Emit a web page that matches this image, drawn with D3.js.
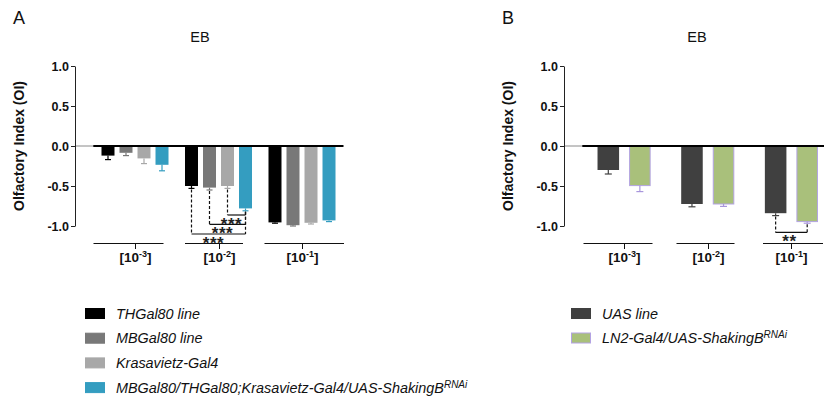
<!DOCTYPE html>
<html>
<head>
<meta charset="utf-8">
<script src="https://cdn.jsdelivr.net/npm/d3@7"></script>
<style>
  body { margin: 0; background: #fff; }
  svg { display: block; }
  text { font-family: Arial, "Liberation Sans", Helvetica, sans-serif; }
</style>
</head>
<body>
<svg id="chart" width="824" height="396"></svg>
<script>
// Odour dilutions (10^x) shown on the x axis
const dilutionExponents = ["-3", "-2", "-1"];
const yTickValues = [1.0, 0.5, 0.0, -0.5, -1.0];

// Panel A: THGal80 / MBGal80 / Krasavietz-Gal4 controls vs. ShakingB knockdown
const seriesA = ["THGal80 line", "MBGal80 line", "Krasavietz-Gal4",
                 "MBGal80/THGal80;Krasavietz-Gal4/UAS-ShakingB"];
const seriesSupA = ["", "", "", "RNAi"];
const meansA = [
  [-0.12, -0.50, -0.955],
  [-0.085, -0.52, -0.99],
  [-0.155, -0.50, -0.96],
  [-0.235, -0.78, -0.93]
];
const semA = [
  [0.05, 0.03, 0.01],
  [0.035, 0.03, 0.01],
  [0.065, 0.03, 0.015],
  [0.075, 0.03, 0.015]
];
const colorsA = ["#000000", "#787878", "#a8a8a8", "#349dc0"];
const errColorsA = ["#000000", "#787878", "#a8a8a8", "#349dc0"];
// significance brackets: [dilution index, bar from, bar to, bracket level, stars]
const sigA = [
  [1, 2, 3, -0.8625, "***"],
  [1, 1, 3, -0.98, "***"],
  [1, 0, 3, -1.10, "***"]
];

// Panel B: UAS control vs. LN2 ShakingB knockdown
const seriesB = ["UAS line", "LN2-Gal4/UAS-ShakingB"];
const seriesSupB = ["", "RNAi"];
const meansB = [
  [-0.30, -0.725, -0.84],
  [-0.495, -0.725, -0.945]
];
const semB = [
  [0.05, 0.035, 0.03],
  [0.075, 0.03, 0.02]
];
const colorsB = ["#404040", "#a9c07b"];
const errColorsB = ["#404040", "#a896dc"];
const strokeB = [null, "#b3a3e3"];
const sigB = [
  [2, 0, 1, -1.08, "**"]
];

const svg = d3.select("#chart");

function drawPanel(o) {
  const g = svg.append("g");
  const y = d3.scaleLinear().domain([-1, 1]).range([226, 66]);
  const x0 = d3.scaleBand().domain(dilutionExponents).range(o.groupRange);
  const x1 = d3.scaleBand().domain(d3.range(o.series.length))
    .range([0, x0.bandwidth()]).paddingInner(o.padInner).paddingOuter(o.padOuter);
  const barCenter = (gi, si) => x0(dilutionExponents[gi]) + x1(si) + x1.bandwidth() / 2;

  // panel letter and title
  g.append("text").attr("x", o.letterX).attr("y", 24).attr("font-size", 18).attr("fill", "#111").text(o.letter);
  g.append("text").attr("x", o.titleX).attr("y", 42).attr("text-anchor", "middle")
    .attr("font-size", 14.5).attr("fill", "#111").text("EB");

  // y axis title
  g.append("text")
    .attr("transform", `translate(${o.yTitleX},146) rotate(-90)`)
    .attr("text-anchor", "middle").attr("font-size", 14).attr("font-weight", "bold")
    .attr("fill", "#111").text("Olfactory Index (OI)");

  // thin grey baseline from the axis to the first group
  g.append("line").attr("x1", o.axisX).attr("x2", o.groupRange[0])
    .attr("y1", y(0)).attr("y2", y(0)).attr("stroke", "#8a8a8a").attr("stroke-width", 1);

  // bars
  const flat = [];
  o.means.forEach((vals, si) => vals.forEach((v, gi) => flat.push({ si, gi, v, e: o.sem[si][gi] })));

  g.append("g").selectAll("rect").data(flat).join("rect")
    .attr("x", d => x0(dilutionExponents[d.gi]) + x1(d.si) + (o.stroke[d.si] ? 0.5 : 0))
    .attr("y", d => y(Math.max(0, d.v)))
    .attr("width", d => x1.bandwidth() - (o.stroke[d.si] ? 1 : 0))
    .attr("height", d => Math.abs(y(d.v) - y(0)))
    .attr("fill", d => o.colors[d.si])
    .attr("stroke", d => o.stroke[d.si] || "none")
    .attr("stroke-width", 1);

  // error bars (downward only)
  const eb = g.append("g").selectAll("g").data(flat).join("g")
    .attr("stroke", d => o.errColors[d.si]).attr("stroke-width", 1.2);
  eb.append("line")
    .attr("x1", d => barCenter(d.gi, d.si)).attr("x2", d => barCenter(d.gi, d.si))
    .attr("y1", d => y(d.v)).attr("y2", d => y(d.v - d.e));
  eb.append("line")
    .attr("x1", d => barCenter(d.gi, d.si) - o.capW / 2).attr("x2", d => barCenter(d.gi, d.si) + o.capW / 2)
    .attr("y1", d => y(d.v - d.e)).attr("y2", d => y(d.v - d.e));

  // heavy zero line across the groups
  g.append("line").attr("x1", o.groupRange[0]).attr("x2", o.zeroEnd)
    .attr("y1", y(0)).attr("y2", y(0)).attr("stroke", "#000").attr("stroke-width", 2);

  // y axis
  const ya = g.append("g").attr("transform", `translate(${o.axisX},0)`)
    .call(d3.axisLeft(y).tickValues(yTickValues).tickFormat(d => d.toFixed(1))
      .tickSize(4).tickSizeOuter(0).tickPadding(2));
  ya.selectAll("path, line").attr("stroke", "#222");
  ya.selectAll("text").attr("font-size", 12.5).attr("font-weight", "bold").attr("fill", "#111")
    .attr("font-family", "Arial, 'Liberation Sans', sans-serif");

  // group segments below the plot with centre ticks and labels
  const xg = g.append("g").selectAll("g").data(dilutionExponents).join("g")
    .attr("transform", d => `translate(${Math.round(x0(d) + x0.bandwidth() / 2) + 0.5},0)`);
  xg.append("line")
    .attr("x1", (d, i) => o.segSpan[i][0]).attr("x2", (d, i) => o.segSpan[i][1])
    .attr("y1", 243.5).attr("y2", 243.5).attr("stroke", "#111").attr("stroke-width", 1);
  xg.append("line").attr("x1", 0).attr("x2", 0).attr("y1", 243.5).attr("y2", 249)
    .attr("stroke", "#111").attr("stroke-width", 1);
  const lbl = xg.append("text").attr("y", 262).attr("text-anchor", "middle")
    .attr("font-size", 13.5).attr("font-weight", "bold").attr("fill", "#111");
  lbl.append("tspan").text("[10");
  lbl.append("tspan").attr("dy", -5).attr("font-size", 9).text(d => d);
  lbl.append("tspan").attr("dy", 5).text("]");

  // significance brackets
  const sg = g.append("g").selectAll("g").data(o.sig).join("g");
  sg.append("line")
    .attr("x1", d => barCenter(d[0], d[1])).attr("x2", d => barCenter(d[0], d[1]))
    .attr("y1", d => y(o.means[d[1]][d[0]] - o.sem[d[1]][d[0]]) + 1).attr("y2", d => y(d[3]))
    .attr("stroke", "#111").attr("stroke-width", 1.2).attr("stroke-dasharray", "3,2");
  sg.append("line")
    .attr("x1", d => barCenter(d[0], d[2])).attr("x2", d => barCenter(d[0], d[2]))
    .attr("y1", d => y(o.means[d[2]][d[0]] - o.sem[d[2]][d[0]]) + 1).attr("y2", d => y(d[3]))
    .attr("stroke", "#111").attr("stroke-width", 1.2).attr("stroke-dasharray", "3,2");
  sg.append("line")
    .attr("x1", d => barCenter(d[0], d[1])).attr("x2", d => barCenter(d[0], d[2]))
    .attr("y1", d => y(d[3])).attr("y2", d => y(d[3]))
    .attr("stroke", "#111").attr("stroke-width", 1.2);
  sg.append("text")
    .attr("x", d => (barCenter(d[0], d[1]) + barCenter(d[0], d[2])) / 2 - o.starShift)
    .attr("y", d => y(d[3]) + 14.5)
    .attr("text-anchor", "middle").attr("font-size", 17).attr("font-weight", "bold")
    .attr("letter-spacing", 0.6).attr("fill", "#222")
    .text(d => d[4]);

  // legend
  const lg = g.append("g").selectAll("g").data(o.series).join("g")
    .attr("transform", (d, i) => `translate(${o.legendX},${313 + i * o.legendStep})`);
  lg.append("rect").attr("x", 0.5).attr("y", -4.5).attr("width", 19).attr("height", 10)
    .attr("fill", (d, i) => o.colors[i])
    .attr("stroke", (d, i) => o.stroke[i] || o.colors[i]).attr("stroke-width", 1);
  const lt = lg.append("text").attr("x", 31).attr("y", 5.5).attr("font-size", 14.4)
    .attr("font-style", "italic").attr("fill", "#111");
  lt.append("tspan").text(d => d);
  lt.append("tspan").attr("dy", -5).attr("font-size", 10).text((d, i) => o.sup[i]);
}

drawPanel({
  letter: "A", letterX: 13, titleX: 200, yTitleX: 24, axisX: 75,
  groupRange: [93.25, 343.75], zeroEnd: 343.5, padInner: 0.278, padOuter: 0.458, capW: 6,
  series: seriesA, sup: seriesSupA, means: meansA, sem: semA,
  colors: colorsA, errColors: errColorsA, stroke: [null, null, null, null],
  sig: sigA, starShift: 5,
  segSpan: [[-42, 28], [-34.5, 23.5], [-38, 41.5]],
  legendX: 85, legendStep: 24.7
});

drawPanel({
  letter: "B", letterX: 502, titleX: 697, yTitleX: 513, axisX: 564,
  groupRange: [582.25, 833.25], zeroEnd: 824, padInner: 0.317, padOuter: 0.484, capW: 7,
  series: seriesB, sup: seriesSupB, means: meansB, sem: semB,
  colors: colorsB, errColors: errColorsB, stroke: strokeB,
  sig: sigB, starShift: 2,
  segSpan: [[-41, 28], [-32, 26], [-28.5, 31.5]],
  legendX: 571, legendStep: 24.5
});
</script>
</body>
</html>
